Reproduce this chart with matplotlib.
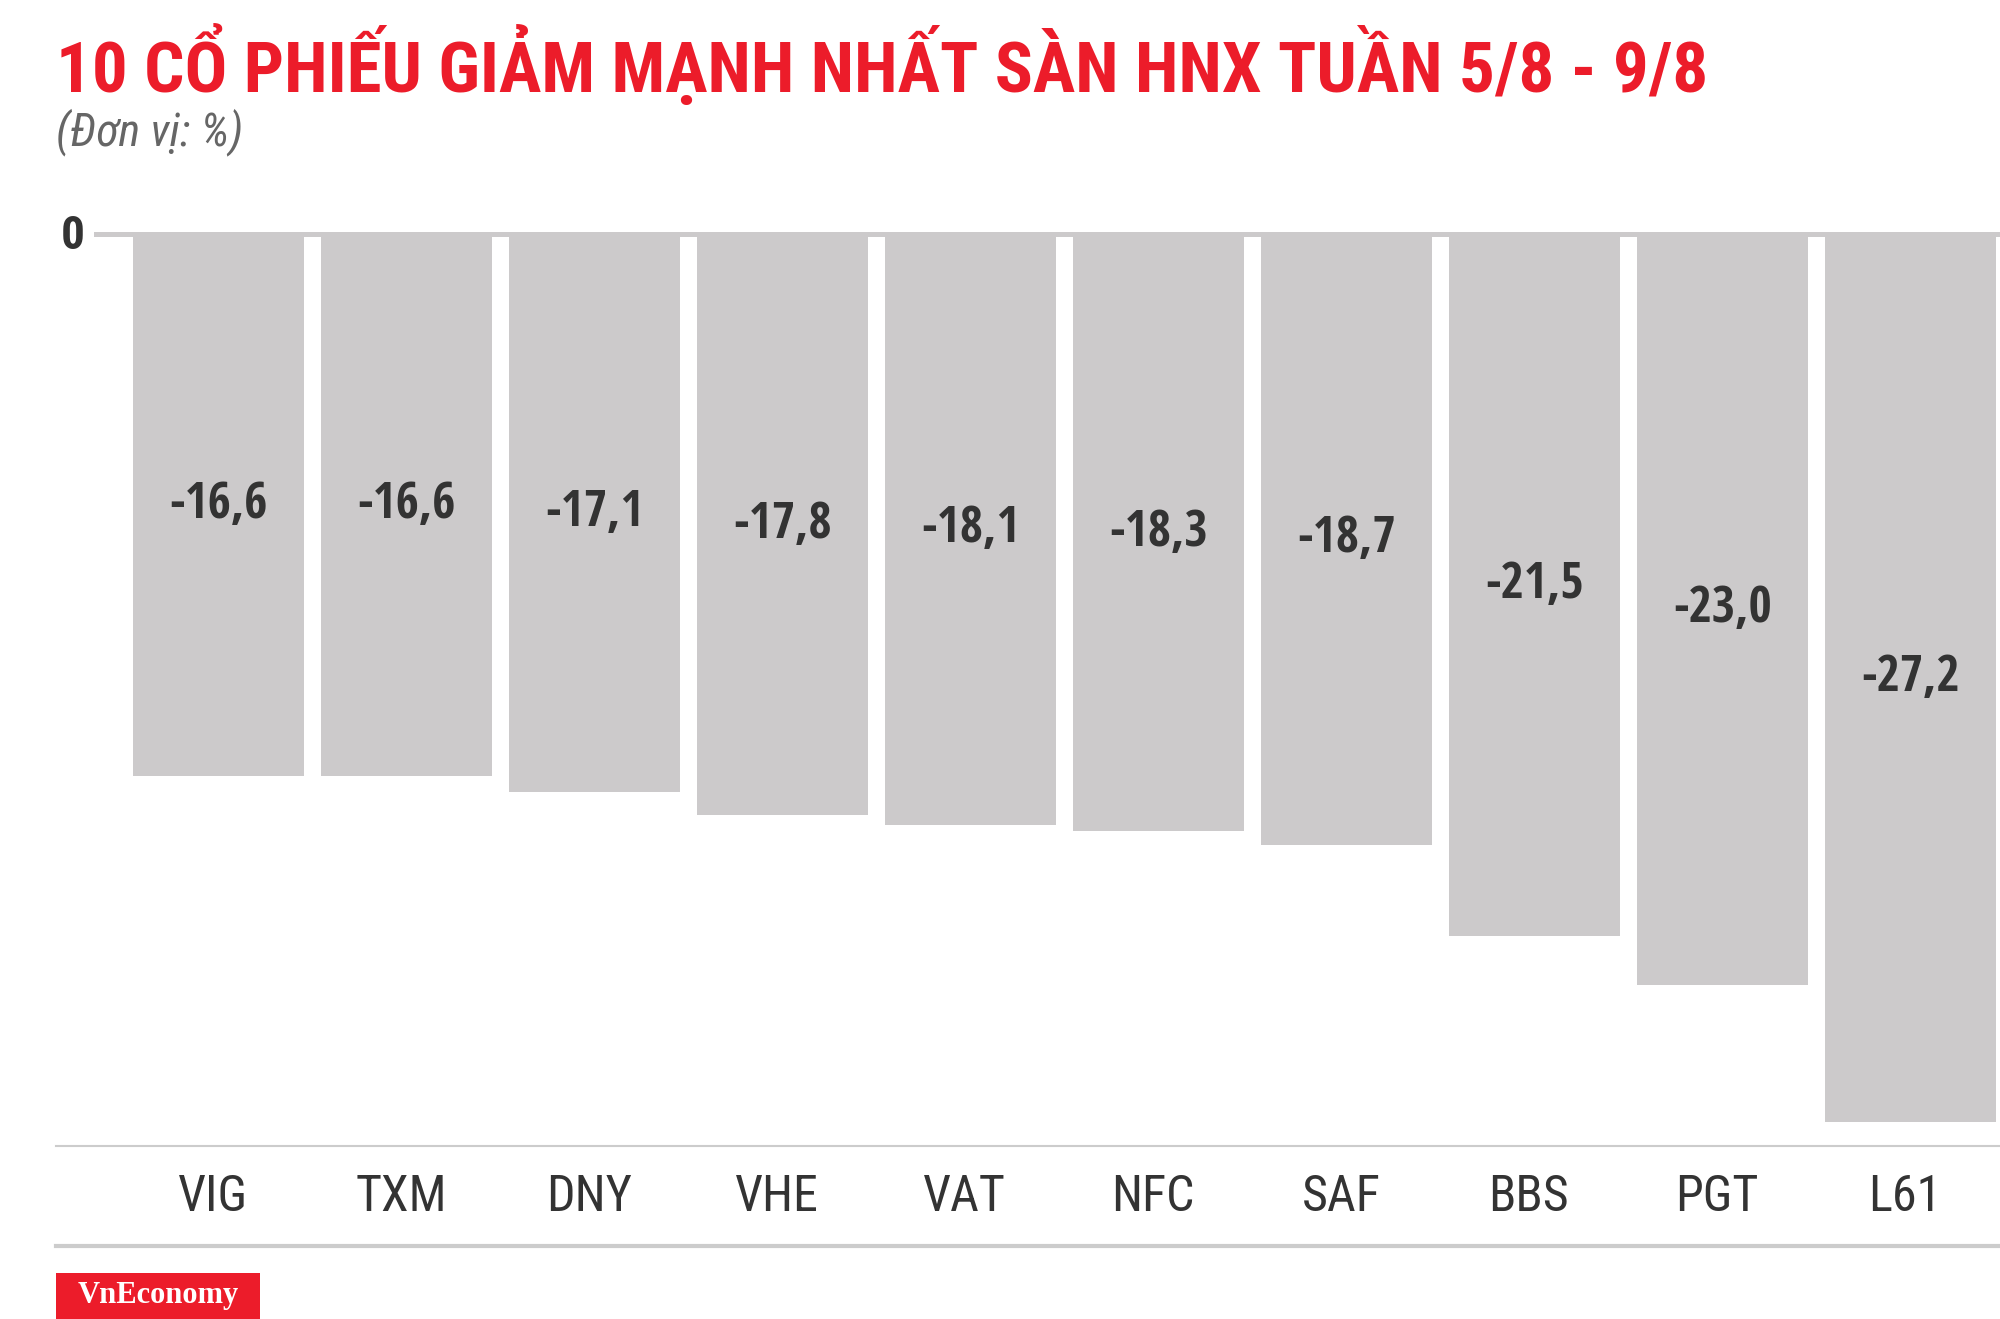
import matplotlib
matplotlib.use('Agg')
import matplotlib.pyplot as plt
import matplotlib.transforms as mtrans
from matplotlib.patches import Rectangle
from matplotlib.lines import Line2D

# data
tickers = ['VIG', 'TXM', 'DNY', 'VHE', 'VAT', 'NFC', 'SAF', 'BBS', 'PGT', 'L61']
changes = [-16.6, -16.6, -17.1, -17.8, -18.1, -18.3, -18.7, -21.5, -23.0, -27.2]
title = '10 CỔ PHIẾU GIẢM MẠNH NHẤT SÀN HNX TUẦN 5/8 - 9/8'
unit = '(Đơn vị: %)'

W, H = 2000, 1319
RED = '#ec1c2a'
GRAY = '#cccacb'
DARK = '#333333'
COND = ['Roboto Condensed', 'DejaVu Sans']

fig = plt.figure(figsize=(W / 100, H / 100), dpi=100)

def fx(px):
    return px / W

def fy(py):
    return 1 - py / H

# axes: left edge at zero-line start, bottom at the thin gray line
ax = fig.add_axes([fx(94), fy(1145), 1 - fx(94), fy(200) - fy(1145)])
unit_px = 32.65
ax.set_xlim(-0.662, 9.476)
ax.set_ylim(-(1145 - 234) / unit_px, (234 - 200) / unit_px)
ax.axis('off')

x = list(range(len(tickers)))
ax.bar(x, changes, width=171 / 188, color=GRAY, zorder=2)
ax.axhline(0, color=GRAY, lw=5 * 0.72, zorder=3)

for xi, v in zip(x, changes):
    ax.text(xi, v / 2, f'{v:.1f}'.replace('.', ','), ha='center', va='center',
            fontsize=36, fontweight='bold', color=DARK,
            family=['Open Sans Condensed', 'Roboto Condensed'])

# category labels (sit a little left of bar centres in the original)
tr = mtrans.blended_transform_factory(ax.transData, fig.transFigure)
for xi, t in zip(x, tickers):
    ax.text(xi - 0.03, fy(1197), t, transform=tr, ha='center', va='center',
            fontsize=36, color=DARK, family=COND)

fig.text(fx(85), fy(236), '0', ha='right', va='center', fontsize=34,
         fontweight='bold', color=DARK, family=COND)

fig.text(fx(56), fy(92), title, ha='left', va='baseline', fontsize=51,
         fontweight='bold', color=RED, family=COND)
fig.text(fx(56), fy(145), unit, ha='left', va='baseline', fontsize=33,
         style='italic', color='#666666', family=COND)

fig.add_artist(Line2D([fx(56), 1], [fy(1146), fy(1146)], color='#cccccc', lw=1.5))
fig.add_artist(Line2D([fx(56), 1], [fy(1246), fy(1246)], color='#cccccc', lw=3))

fig.add_artist(Rectangle((fx(56), 0), fx(204), fy(1273), color=RED, lw=0))
fig.text(fx(158), fy(1296), 'VnEconomy', ha='center', va='center', fontsize=22,
         fontweight='bold', color='white', family='Liberation Serif')

fig.savefig('out.png', dpi=100)
